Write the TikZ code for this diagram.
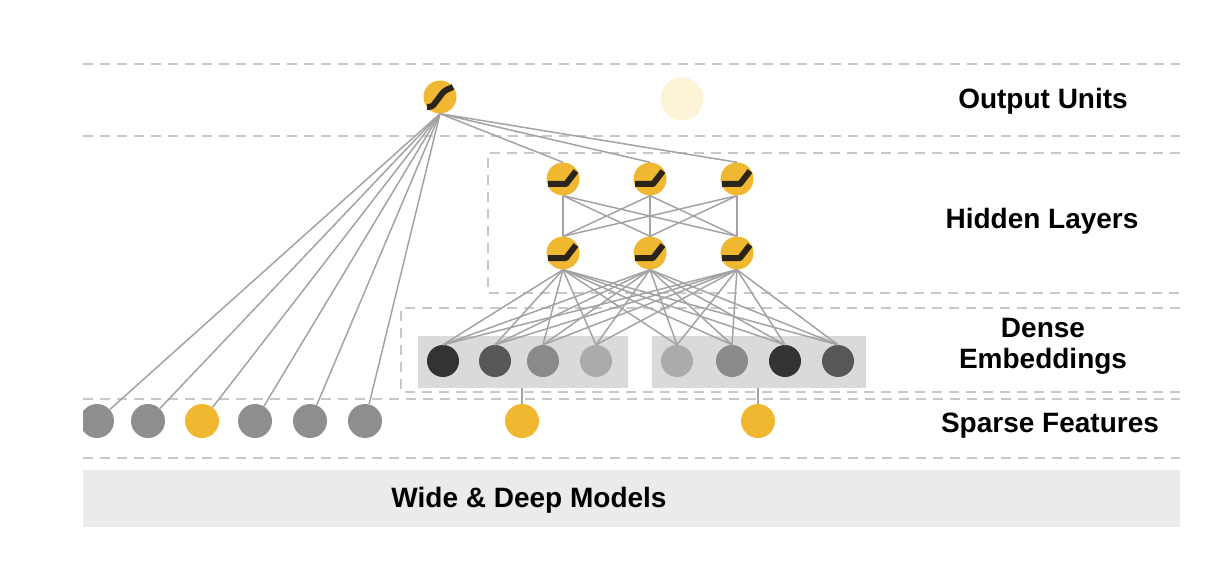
\documentclass[tikz,border=0pt]{standalone}
\usepackage{fontspec}
\setmainfont{Liberation Sans}

\definecolor{neuron}{HTML}{F0B830}
\definecolor{faded}{HTML}{FDF3D6}
\definecolor{wire}{HTML}{A3A3A3}
\definecolor{sep}{HTML}{C8C8C8}
\definecolor{sparsegray}{HTML}{8E8E8E}
\definecolor{embfill}{HTML}{DADADC}
\definecolor{basefill}{HTML}{EBEBEB}
\definecolor{ink}{HTML}{2B2418}

\begin{document}
\begin{tikzpicture}[x=1pt, y=-1pt,
    unit/.style={circle, fill=neuron, minimum size=33pt, inner sep=0pt},
    emb/.style={circle, minimum size=32pt, inner sep=0pt},
    sparse/.style={circle, fill=sparsegray, minimum size=34pt, inner sep=0pt},
    wirestyle/.style={wire, line width=1.5pt},
    sepline/.style={sep, line width=2pt, dash pattern=on 10pt off 7pt},
    glyph/.style={ink, line width=6pt, line join=round},
    label/.style={font=\fontsize{28}{34}\selectfont\bfseries, align=center}]
    \useasboundingbox (0,0) rectangle (1220,572);
    \begin{scope}
    \clip (83,0) rectangle (1220,572);

    % FRANJA INFERIOR
    \node[fill=basefill, minimum width=1097pt, minimum height=57pt, inner sep=0pt] (base) at (631.5,498.5) {};
    \node[label] (wdm) at (529,500) {Wide \& Deep Models};

    % LINIES DE SEPARACIO
    \draw[sepline] (83,64) -- (1180,64);
    \draw[sepline] (83,136) -- (1180,136);
    \draw[sepline] (1180,153) -- (488,153) -- (488,293) -- (1180,293);
    \draw[sepline] (1180,308) -- (401,308) -- (401,392) -- (1180,392);
    \draw[sepline] (83,399) -- (1180,399);
    \draw[sepline] (83,458) -- (1180,458);

    % CAIXES D'EMBEDDINGS
    \node[fill=embfill, minimum width=210pt, minimum height=52pt, inner sep=0pt] (boxL) at (522.5,361.5) {};
    \node[fill=embfill, minimum width=214pt, minimum height=52pt, inner sep=0pt] (boxR) at (759,361.5) {};

    % UNITATS DE SORTIDA
    \node[unit] (out) at (440,97) {};
    \node[circle, fill=faded, minimum size=43pt, inner sep=0pt] (ghost) at (682,99) {};

    % CAPES OCULTES
    \foreach \x/\n in {563/1, 650/2, 737/3} {
        \node[unit] (ha\n) at (\x,179) {};
        \node[unit] (hb\n) at (\x,253) {};
    }

    % EMBEDDINGS DENSOS
    \foreach \x/\c/\n in {443/333333/1, 495/575757/2, 543/8A8A8A/3, 596/ABABAB/4, 677/ABABAB/5, 732/8A8A8A/6, 785/333333/7, 838/575757/8} {
        \definecolor{tmp}{HTML}{\c}
        \node[emb, fill=tmp] (e\n) at (\x,361) {};
    }

    % CARACTERISTIQUES DISPERSES
    \foreach \x/\n in {97/1, 148/2, 255/4, 310/5, 365/6}
        \node[sparse] (s\n) at (\x,421) {};
    \node[sparse, fill=neuron] (s3) at (202,421) {};
    \node[sparse, fill=neuron] (yL) at (522,421) {};
    \node[sparse, fill=neuron] (yR) at (758,421) {};

    % CONNEXIONS
    \foreach \n in {1,...,6}
        \draw[wirestyle] (out.south) -- (s\n);
    \foreach \n in {1,2,3}
        \draw[wirestyle] (out.south) -- (ha\n.north);
    \foreach \i in {1,2,3}
        \foreach \j in {1,2,3}
            \draw[wirestyle] (ha\i.south) -- (hb\j.north);
    \foreach \i in {1,2,3}
        \foreach \j in {1,...,8}
            \draw[wirestyle] (hb\i.south) -- (e\j.north);
    \draw[wirestyle] (yL.north) -- (yL |- boxL.south);
    \draw[wirestyle] (yR.north) -- (yR |- boxR.south);

    % FUNCIONS D'ACTIVACIO
    \draw[glyph, rounded corners=3pt] (out.center) ++(-13,10) -- ++(5,0) -- ++(12,-16) -- ++(9,-4);
    \foreach \n in {ha1,ha2,ha3,hb1,hb2,hb3}
        \draw[glyph] (\n.center) ++(-15,5) -- ++(18,0) -- ++(10,-13);

    % ETIQUETES
    \node[label] (lout) at (1043,101) {Output Units};
    \node[label] (lhid) at (1042,221) {Hidden Layers};
    \node[label] (lemb) at (1043,346) {Dense\\[-3pt]Embeddings};
    \node[label] (lspa) at (1050,426) {Sparse Features};
    \end{scope}
\end{tikzpicture}
\end{document}
